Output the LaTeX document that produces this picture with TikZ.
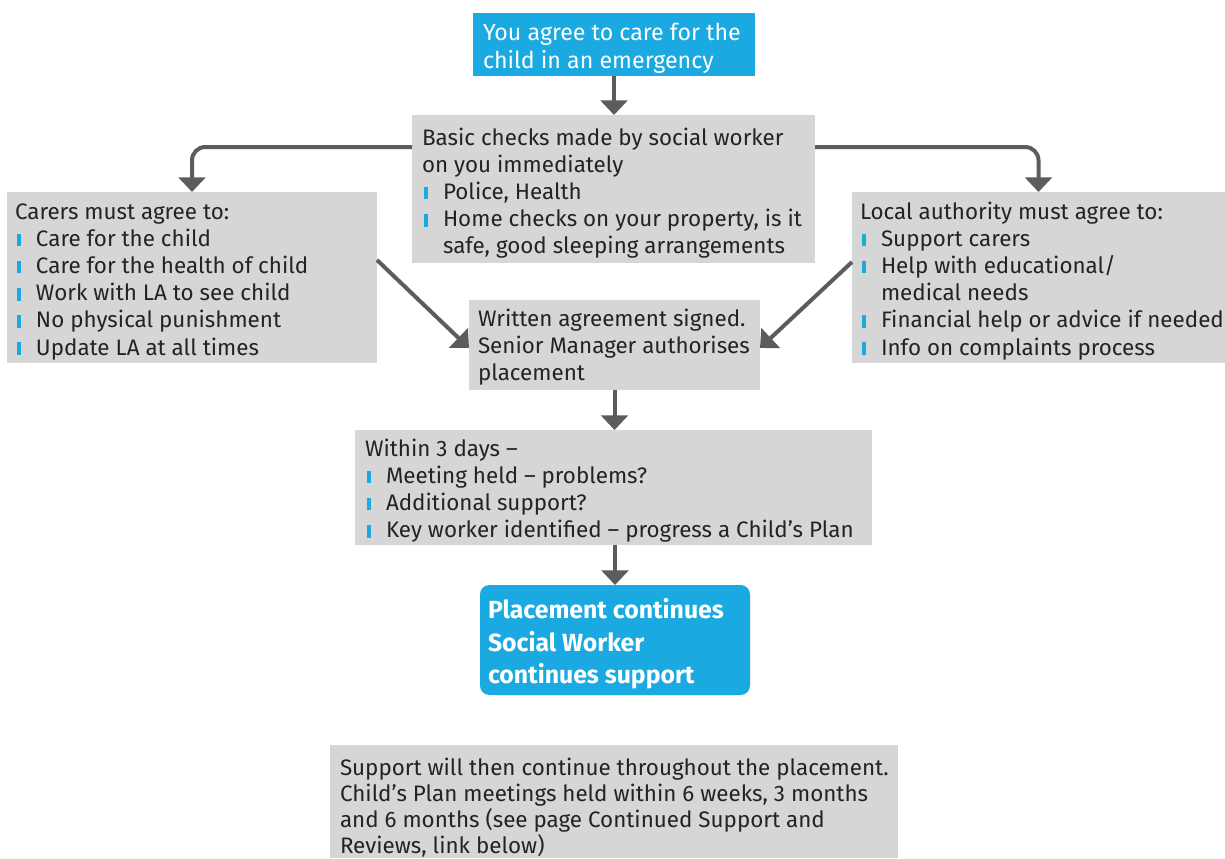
\documentclass[tikz,border=0pt]{standalone}
\usepackage{fontspec}
\setmainfont{Fira Sans}
\usetikzlibrary{arrows.meta,calc}
\definecolor{cyanb}{HTML}{1AA9E1}
\definecolor{boxgray}{HTML}{D6D6D6}
\definecolor{arrgray}{HTML}{5C5C5C}
\definecolor{txtc}{HTML}{232323}
\newcommand{\bl}{\makebox[15.75pt][l]{\hspace{1.5pt}{\color{cyanb}\rule{3pt}{9.5pt}}}}
\newcommand{\ind}{\hspace*{15.75pt}}
\begin{document}
\begin{tikzpicture}[x=0.75pt,y=-0.75pt,
 gbox/.style={fill=boxgray, inner sep=0pt, outer sep=0pt},
 bbox/.style={fill=cyanb, inner sep=0pt, outer sep=0pt},
 tx/.style={anchor=north west, inner sep=0pt, outer sep=0pt, align=left, text=txtc, font=\fontsize{16.8}{20.4}\selectfont},
 wtx/.style={tx, text=white},
 arr/.style={draw=arrgray, line width=3pt, -{Triangle[width=20pt,length=11pt]}},
]
\useasboundingbox (0,0) rectangle (1225,858);
\fill[white] (0,0) rectangle (1225,858);
% boxes
\node[bbox, minimum width=211.5pt, minimum height=47.25pt] (top) at (614,44.5) {};
\node[gbox, minimum width=302.25pt, minimum height=111pt] (basic) at (613.5,189) {};
\node[gbox, minimum width=277.5pt, minimum height=128.25pt] (carers) at (192,277.5) {};
\node[gbox, minimum width=279.75pt, minimum height=128.25pt] (la) at (1038.5,277.5) {};
\node[gbox, minimum width=218.25pt, minimum height=67.5pt] (written) at (614.5,345) {};
\node[gbox, minimum width=387.75pt, minimum height=86.25pt] (within) at (613.5,487.5) {};
\node[bbox, rounded corners=7pt, minimum width=202.5pt, minimum height=82.5pt] (place) at (615,640) {};
\node[gbox, minimum width=426pt, minimum height=84.75pt] (bottom) at (614,801.5) {};
% texts
\node[wtx, font=\fontsize{17.4}{21}\selectfont] (topT) at ($(top.north west)+(10,8)$) {\strut You agree to care for the\\child in an emergency};
\node[tx] (basicT) at ($(basic.north west)+(10,11)$) {\strut Basic checks made by social worker\\on you immediately\\\bl Police, Health\\\bl Home checks on your property, is it\\\ind safe, good sleeping arrangements};
\node[tx] (carersT) at ($(carers.north west)+(8,8)$) {\strut Carers must agree to:\\\bl Care for the child\\\bl Care for the health of child\\\bl Work with LA to see child\\\bl No physical punishment\\\bl Update LA at all times};
\node[tx] (laT) at ($(la.north west)+(8,8)$) {\strut Local authority must agree to:\\\bl Support carers\\\bl Help with educational/\\\ind medical needs\\\bl Financial help or advice if needed\\\bl Info on complaints process};
\node[tx] (writtenT) at ($(written.north west)+(9,7)$) {\strut Written agreement signed.\\Senior Manager authorises\\placement};
\node[tx] (withinT) at ($(within.north west)+(10,7)$) {\strut Within 3 days --\\\bl Meeting held -- problems?\\\bl Additional support?\\\bl Key worker identified -- progress a Child's Plan};
\node[wtx, font=\fontsize{18.6}{24.4}\selectfont\bfseries] (placeT) at ($(place.north west)+(8,11)$) {\strut Placement continues\\Social Worker\\continues support};
\node[tx, font=\fontsize{16.8}{19.5}\selectfont] (bottomT) at ($(bottom.north west)+(10,12)$) {\strut Support will then continue throughout the placement.\\Child's Plan meetings held within 6 weeks, 3 months\\and 6 months (see page Continued Support and\\Reviews, link below)};
% connectors
\draw[arr] (top.south) -- (top.south |- basic.north);
\draw[arr, rounded corners=10pt] (basic.west |- 0,147) -| (carers.north);
\draw[arr, rounded corners=10pt] (basic.east |- 0,147) -| (la.north);
\draw[arr] (carers.east |- 0,260) -- (written.west |- 0,348);
\draw[arr] (la.west |- 0,262) -- (written.east |- 0,348);
\draw[arr] (written.south) -- (written.south |- within.north);
\draw[arr] (place.north |- within.south) -- (place.north);
\end{tikzpicture}
\end{document}
